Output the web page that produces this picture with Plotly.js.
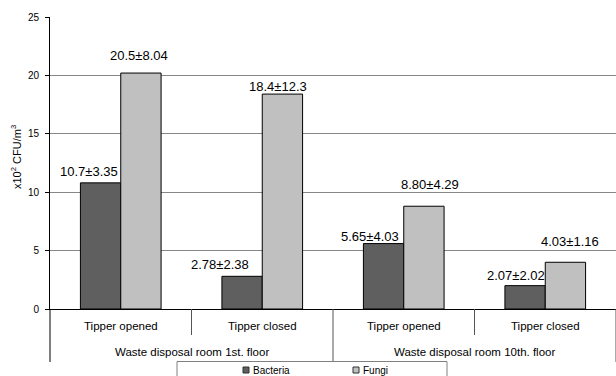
<!DOCTYPE html>
<html>
<head>
<meta charset="utf-8">
<script src="https://cdn.plot.ly/plotly-3.0.1.min.js"></script>
<style>html,body{margin:0;padding:0;background:#fff;}#chart{width:616px;height:376px;}</style>
</head>
<body>
<div id="chart"></div>
<script>
// ---- data ----
const categories = ['Tipper opened', 'Tipper closed', 'Tipper opened', 'Tipper closed'];
const groups = ['Waste disposal room 1st. floor', 'Waste disposal room 10th. floor'];
const categoryGroup = [0, 0, 1, 1];
const seriesNames = ['Bacteria', 'Fungi'];
const bacteria = [10.8, 2.8, 5.6, 2.0];
const fungi = [20.2, 18.4, 8.8, 4.0];
const bacteriaLabels = ['10.7±3.35', '2.78±2.38', '5.65±4.03', '2.07±2.02'];
const fungiLabels = ['20.5±8.04', '18.4±12.3', '8.80±4.29', '4.03±1.16'];
const yTicks = [0, 5, 10, 15, 20, 25];

// ---- layout helpers ----
const FONT = 'Liberation Sans, Arial, sans-serif';
const W = 616, H = 376;
const M = {l: 50, r: 0, t: 17, b: 67};
const plotW = W - M.l - M.r, plotH = H - M.t - M.b;
const xRange = [-0.5, categories.length - 0.5];
const bargap = 0.43;
const half = (1 - bargap) / 4;
const colors = ['#5f5f5f', '#c0c0c0'];
const px2paperX = p => (p - M.l) / plotW;
const px2paperY = p => (H - M.b - p) / plotH;
const dataX2paper = x => (x - xRange[0]) / (xRange[1] - xRange[0]);

// label fine offsets (pixels) [dx, dy]
const labelShift = [
  [[-12, 11], [-1.5, 18]],
  [[-22, 12], [-4, 8]],
  [[-13.5, 7], [6, 22]],
  [[-9, 10], [4.5, 20.5]]
];

const idx = categories.map((_, i) => i);
const traces = [bacteria, fungi].map((vals, s) => ({
  type: 'bar', x: idx, y: vals, name: seriesNames[s],
  marker: {color: colors[s], line: {color: '#000', width: 1}},
  showlegend: false, hoverinfo: 'skip'
}));

const annotations = [];
const shapes = [];
[bacteriaLabels, fungiLabels].forEach((labs, s) => {
  const vals = s === 0 ? bacteria : fungi;
  labs.forEach((t, i) => {
    annotations.push({
      x: i + (s === 0 ? -half : half), y: vals[i], xref: 'x', yref: 'y',
      text: t, showarrow: false, xanchor: 'center', yanchor: 'middle',
      xshift: labelShift[i][s][0], yshift: labelShift[i][s][1],
      font: {family: FONT, size: 13, color: '#000'}
    });
  });
});
// category labels
categories.forEach((c, i) => {
  annotations.push({x: dataX2paper(i), y: px2paperY(326), xref: 'paper', yref: 'paper',
    text: c, showarrow: false, xanchor: 'center', yanchor: 'middle',
    font: {family: FONT, size: 11.5, color: '#000'}});
});
// group labels
groups.forEach((g, gi) => {
  const members = idx.filter(i => categoryGroup[i] === gi);
  const mid = (members[0] + members[members.length - 1]) / 2;
  annotations.push({x: dataX2paper(mid), y: px2paperY(352), xref: 'paper', yref: 'paper',
    text: g, showarrow: false, xanchor: 'center', yanchor: 'middle',
    font: {family: FONT, size: 11.5, color: '#000'}});
});
// separators
for (let i = 0; i <= categories.length; i++) {
  const isGroupEdge = i === 0 || i === categories.length || categoryGroup[i] !== categoryGroup[i - 1];
  const xp = dataX2paper(i - 0.5);
  shapes.push({type: 'line', xref: 'paper', yref: 'paper', x0: xp, x1: xp,
    y0: 0, y1: px2paperY(isGroupEdge ? 362 : 335),
    line: {color: isGroupEdge && i === 0 ? '#000' : '#555', width: 1}});
}
// y axis title
annotations.push({x: px2paperX(16), y: px2paperY(157), xref: 'paper', yref: 'paper',
  text: 'x10<sup>2</sup> CFU/m<sup>3</sup>', textangle: -90, showarrow: false,
  xanchor: 'center', yanchor: 'middle', font: {family: FONT, size: 11, color: '#000'}});

// manual legend
shapes.push({type: 'rect', xref: 'paper', yref: 'paper',
  x0: px2paperX(177), x1: px2paperX(447), y0: px2paperY(361.5), y1: px2paperY(385),
  line: {color: '#808080', width: 1}, fillcolor: 'rgba(0,0,0,0)'});
const legendX = [243, 353];
seriesNames.forEach((n, s) => {
  shapes.push({type: 'rect', xref: 'paper', yref: 'paper',
    x0: px2paperX(legendX[s]), x1: px2paperX(legendX[s] + 6),
    y0: px2paperY(367), y1: px2paperY(373),
    line: {color: '#333', width: 1}, fillcolor: colors[s]});
  annotations.push({x: px2paperX(legendX[s] + 7.5), y: px2paperY(370), xref: 'paper', yref: 'paper',
    text: n, showarrow: false, xanchor: 'left', yanchor: 'middle',
    font: {family: FONT, size: 10, color: '#000'}});
});

const layout = {
  width: W, height: H, margin: M,
  paper_bgcolor: '#fff', plot_bgcolor: '#fff',
  barmode: 'group', bargap: bargap, bargroupgap: 0,
  showlegend: false,
  font: {family: FONT, size: 10, color: '#000'},
  xaxis: {range: xRange, showticklabels: false, ticks: '', showgrid: false,
    zeroline: false, showline: true, linecolor: '#000', linewidth: 1, fixedrange: true},
  yaxis: {range: [0, 25], tickvals: yTicks, ticks: 'outside', ticklen: 4,
    tickcolor: '#000', showgrid: true, gridcolor: '#878787', gridwidth: 1,
    zeroline: false, showline: true, linecolor: '#000', linewidth: 1,
    tickfont: {family: FONT, size: 10, color: '#000'}, ticklabelstandoff: 4, fixedrange: true},
  annotations: annotations, shapes: shapes
};

Plotly.newPlot('chart', traces, layout, {displayModeBar: false, staticPlot: true});
</script>
</body>
</html>
